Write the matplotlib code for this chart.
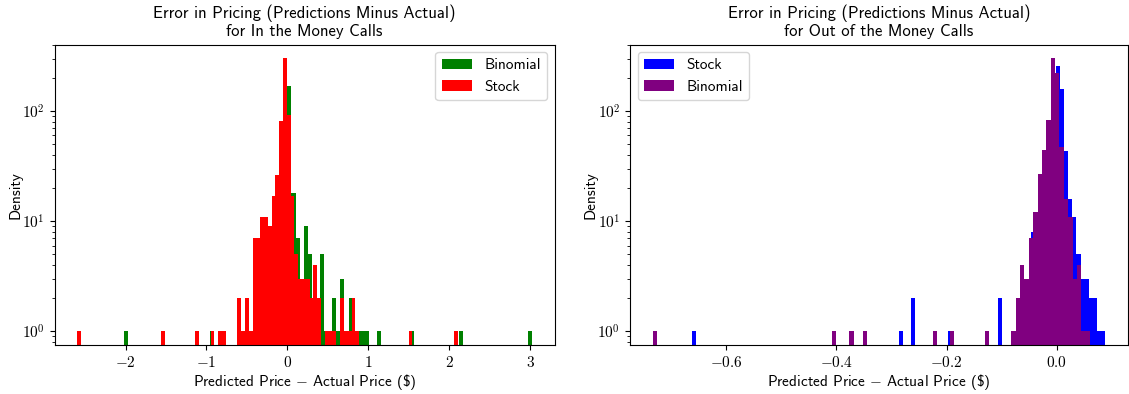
import numpy as np
import matplotlib
matplotlib.use("Agg")
import matplotlib.pyplot as plt
from matplotlib.ticker import FuncFormatter, NullFormatter

plt.rcParams['font.family'] = ['cmss10', 'DejaVu Sans']
plt.rcParams['mathtext.fontset'] = 'cm'
plt.rcParams['axes.formatter.use_mathtext'] = True

# ---------------- data: histogram counts (100 bins each) ----------------
# In the money calls
itm_stock_range = (-2.597, 2.112)
itm_stock_counts = [
    1, 0, 0, 0, 0, 0, 0, 0, 0, 0,
    0, 0, 0, 0, 0, 0, 0, 0, 0, 0,
    0, 0, 1, 0, 0, 0, 0, 0, 0, 0,
    0, 1, 0, 0, 0, 1, 0, 1, 1, 0,
    0, 0, 2, 1, 2, 1, 7, 7, 11, 11,
    9, 17, 26, 81, 301, 93, 17, 5, 3, 3,
    3, 2, 4, 2, 0, 1, 1, 1, 0, 2,
    1, 1, 2, 1, 0, 0, 0, 0, 0, 0,
    0, 0, 0, 0, 0, 0, 0, 1, 0, 0,
    0, 0, 0, 0, 0, 0, 0, 0, 0, 1,
]
itm_binom_range = (-2.015, 3.023)
itm_binom_counts = [
    1, 0, 0, 0, 0, 0, 0, 0, 0, 0,
    0, 0, 0, 0, 0, 0, 0, 0, 0, 0,
    0, 1, 0, 0, 0, 0, 0, 0, 1, 1,
    1, 1, 6, 7, 10, 8, 9, 17, 50, 80,
    169, 18, 7, 3, 9, 5, 2, 2, 5, 1,
    1, 2, 1, 3, 1, 2, 1, 1, 1, 1,
    0, 0, 1, 0, 0, 0, 0, 0, 0, 0,
    1, 0, 0, 0, 0, 0, 0, 0, 0, 0,
    0, 0, 1, 0, 0, 0, 0, 0, 0, 0,
    0, 0, 0, 0, 0, 0, 0, 0, 0, 1,
]

# Out of the money calls
otm_stock_range = (-0.663, 0.0885)
otm_stock_counts = [
    1, 0, 0, 0, 0, 0, 0, 0, 0, 0,
    0, 0, 0, 0, 0, 0, 0, 0, 0, 0,
    0, 0, 0, 0, 0, 0, 0, 0, 0, 0,
    0, 0, 0, 0, 0, 0, 0, 0, 0, 0,
    0, 0, 0, 0, 0, 0, 0, 0, 0, 0,
    1, 0, 0, 2, 0, 0, 0, 0, 0, 0,
    0, 0, 1, 0, 0, 0, 0, 0, 0, 0,
    0, 0, 0, 0, 2, 0, 0, 0, 1, 2,
    2, 3, 8, 11, 25, 40, 80, 210, 257, 160,
    43, 16, 11, 5, 3, 3, 2, 2, 1, 1,
]
otm_binom_range = (-0.734, 0.0606)
otm_binom_counts = [
    1, 0, 0, 0, 0, 0, 0, 0, 0, 0,
    0, 0, 0, 0, 0, 0, 0, 0, 0, 0,
    0, 0, 0, 0, 0, 0, 0, 0, 0, 0,
    0, 0, 0, 0, 0, 0, 0, 0, 0, 0,
    0, 1, 0, 0, 0, 1, 0, 0, 1, 0,
    0, 0, 0, 0, 0, 0, 0, 0, 0, 0,
    0, 0, 0, 0, 1, 0, 0, 0, 1, 0,
    0, 0, 0, 0, 0, 0, 1, 0, 0, 0,
    0, 0, 1, 2, 4, 3, 7, 12, 27, 44,
    83, 301, 223, 47, 16, 11, 3, 4, 1, 1,
]

titles = ["Error in Pricing (Predictions Minus Actual)\nfor In the Money Calls",
          "Error in Pricing (Predictions Minus Actual)\nfor Out of the Money Calls"]
xlabel = r"Predicted Price $-$ Actual Price (\$)"
ylabel = "Density"


def draw_hist(ax, rng, counts, color, label):
    edges = np.linspace(rng[0], rng[1], len(counts) + 1)
    ax.hist(edges[:-1], bins=edges, weights=counts, color=color,
            label=label, log=True)


W, H = 1129, 394
fig = plt.figure(figsize=(W / 100, H / 100), dpi=100)
ax1 = fig.add_axes([54.6 / W, 49 / H, 500 / W, 300.3 / H])
ax2 = fig.add_axes([630 / W, 49 / H, 498 / W, 300.3 / H])

draw_hist(ax1, itm_binom_range, itm_binom_counts, "green", "Binomial")
draw_hist(ax1, itm_stock_range, itm_stock_counts, "red", "Stock")
draw_hist(ax2, otm_stock_range, otm_stock_counts, "blue", "Stock")
draw_hist(ax2, otm_binom_range, otm_binom_counts, "purple", "Binomial")

fmt_x1 = FuncFormatter(lambda v, p: r"$%d$" % round(v))
fmt_x2 = FuncFormatter(lambda v, p: r"$%.1f$" % (0.0 if abs(v) < 1e-9 else v))
fmt_y = FuncFormatter(lambda v, p: r"$10^{%d}$" % round(np.log10(v)))

for ax, t, fx, loc in [(ax1, titles[0], fmt_x1, "upper right"),
                       (ax2, titles[1], fmt_x2, "upper left")]:
    ax.set_title(t, fontsize=12)
    ax.set_xlabel(xlabel, fontsize=11, labelpad=1.5)
    ax.set_ylabel(ylabel, fontsize=11, labelpad=0)
    ax.xaxis.set_major_formatter(fx)
    ax.yaxis.set_major_formatter(fmt_y)
    ax.yaxis.set_minor_formatter(NullFormatter())
    ax.tick_params(labelsize=11)
    ax.legend(loc=loc, fontsize=11)

fig.savefig("out.png", dpi=100)
